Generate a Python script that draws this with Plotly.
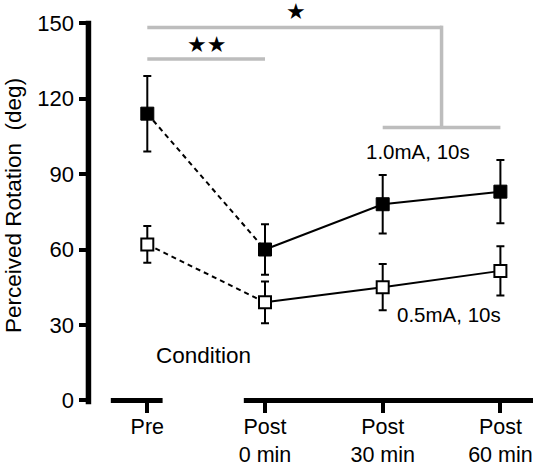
import plotly.graph_objects as go

# ---- data ----
conditions = ["Pre", "Post<br>0 min", "Post<br>30 min", "Post<br>60 min"]
x_pos = [0, 1, 2, 3]
high_mean = [114, 60, 78, 83]          # 1.0mA, 10s
high_err = [15, 10, 11.6, 12.6]
low_mean = [62, 39, 45, 51.5]          # 0.5mA, 10s
low_err = [7.3, 8.3, 9.2, 9.8]
y_ticks = [0, 30, 60, 90, 120, 150]

# significance brackets (values in deg)
sig_top_level = 148.3
sig_top_drop = 108.5
sig_mid_level = 135.7

FONT = "Liberation Sans, Arial, sans-serif"

W, H = 533, 464
x_range = [-0.9116, 3.277]
y_range = [-5, 158]
yaxis_x = -0.5

fig = go.Figure()

def add_series(mean, err, filled):
    fig.add_trace(go.Scatter(
        x=x_pos[:2], y=mean[:2], mode="lines",
        line=dict(color="black", width=2, dash="5px,4px"),
        showlegend=False, hoverinfo="skip"))
    fig.add_trace(go.Scatter(
        x=x_pos[1:], y=mean[1:], mode="lines",
        line=dict(color="black", width=2),
        showlegend=False, hoverinfo="skip"))
    fig.add_trace(go.Scatter(
        x=x_pos, y=mean, mode="markers",
        error_y=dict(type="data", array=err, visible=True,
                     color="black", thickness=2, width=4),
        marker=dict(symbol="square", size=13 if filled else 12,
                    color="black" if filled else "white",
                    line=dict(color="black", width=1 if filled else 2)),
        showlegend=False))

add_series(high_mean, high_err, True)
add_series(low_mean, low_err, False)

gray = "#bdbdbd"
shapes = [
    dict(type="line", xref="x", yref="y", x0=x_pos[0], x1=2.5,
         y0=sig_top_level, y1=sig_top_level, line=dict(color=gray, width=3.5)),
    dict(type="line", xref="x", yref="y", x0=2.5, x1=2.5,
         y0=sig_top_level + 0.7, y1=sig_top_drop, line=dict(color=gray, width=3.5)),
    dict(type="line", xref="x", yref="y", x0=x_pos[2], x1=x_pos[3],
         y0=sig_top_drop, y1=sig_top_drop, line=dict(color=gray, width=3.5)),
    dict(type="line", xref="x", yref="y", x0=x_pos[0], x1=x_pos[1],
         y0=sig_mid_level, y1=sig_mid_level, line=dict(color=gray, width=3.5)),
    dict(type="line", xref="x", yref="y", x0=-0.31, x1=0.13, y0=0, y1=0,
         line=dict(color="black", width=5)),
    dict(type="line", xref="x", yref="y", x0=0.82, x1=x_range[1], y0=0, y1=0,
         line=dict(color="black", width=5)),
    dict(type="line", xref="x", yref="y", x0=yaxis_x, x1=yaxis_x, y0=-1.5, y1=150.9,
         line=dict(color="black", width=5.5)),
]

annotations = [
    dict(x=1.26, y=154.5, text="★", showarrow=False, xref="x", yref="y",
         font=dict(family="DejaVu Sans", size=22, color="black")),
    dict(x=0.5, y=141.4, text="★★", showarrow=False, xref="x", yref="y",
         font=dict(family="DejaVu Sans", size=22, color="black")),
    dict(x=2.30, y=99, text="1.0mA, 10s", showarrow=False, xref="x", yref="y",
         font=dict(family=FONT, size=20.5, color="black")),
    dict(x=2.56, y=34.3, text="0.5mA, 10s", showarrow=False, xref="x", yref="y",
         font=dict(family=FONT, size=20.5, color="black")),
    dict(x=0.48, y=17.9, text="Condition", showarrow=False, xref="x", yref="y",
         font=dict(family=FONT, size=22.5, color="black")),
    dict(x=13, y=206, text="Perceived Rotation  (deg)", showarrow=False,
         xref="paper", yref="paper", textangle=-90,
         xanchor="center", yanchor="middle",
         font=dict(family=FONT, size=22.5, color="black")),
]

ml, mr = 40, 0
ppu = 2.51
mt = 400 - ppu * y_range[1]
mb = H - (400 - ppu * y_range[0])

plot_w = W - ml - mr
plot_h = H - mt - mb
annotations[-1]["x"] = (13 - ml) / plot_w
annotations[-1]["y"] = (H - mb - 206) / plot_h

xpos_frac = (0 - y_range[0]) / (y_range[1] - y_range[0])
ypos_frac = (yaxis_x - x_range[0]) / (x_range[1] - x_range[0])

fig.update_layout(
    width=W, height=H,
    margin=dict(l=ml, r=mr, t=mt, b=mb, pad=0, autoexpand=False),
    plot_bgcolor="white", paper_bgcolor="white",
    font=dict(family=FONT, size=22, color="black"),
    shapes=shapes, annotations=annotations,
    xaxis=dict(range=x_range, tickvals=x_pos, ticktext=conditions,
               showline=False, showgrid=False, zeroline=False,
               ticks="outside", ticklen=12, tickwidth=4, tickcolor="black",
               anchor="free", position=xpos_frac, automargin=False,
               ticklabeloverflow="allow", ticklabelstandoff=-5,
               tickfont=dict(family=FONT, size=21.5)),
    yaxis=dict(range=y_range, tickvals=y_ticks,
               showline=False, showgrid=False, zeroline=False,
               ticks="outside", ticklen=9, tickwidth=4, tickcolor="black",
               anchor="free", position=ypos_frac, automargin=False,
               ticklabeloverflow="allow", ticklabelstandoff=1,
               tickfont=dict(family=FONT, size=22)),
)

fig.write_html("out.html",
               config={"displayModeBar": False},
               post_script="document.body.style.margin='0';document.body.style.overflow='hidden';")
